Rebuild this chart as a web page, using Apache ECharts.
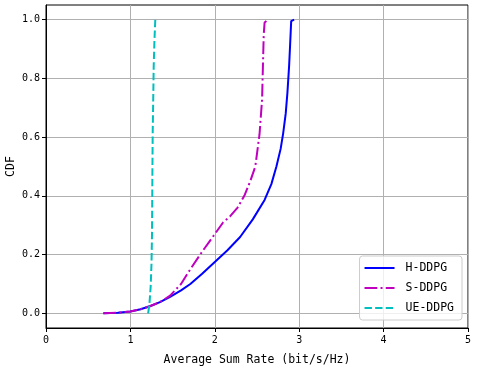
<!DOCTYPE html>
<html>
<head>
<meta charset="utf-8">
<script src="https://cdn.jsdelivr.net/npm/echarts@6/dist/echarts.min.js"></script>
<style>
  html, body { margin: 0; padding: 0; background: #fff; }
  #main { width: 480px; height: 370px; }
</style>
</head>
<body>
<div id="main"></div>
<script>
// data
var seriesNames = ['H-DDPG', 'S-DDPG', 'UE-DDPG'];

var hRate = [0.68, 0.85, 1.0, 1.12, 1.23, 1.35, 1.47, 1.6, 1.71, 1.85, 2.0, 2.15, 2.3, 2.45, 2.59, 2.67, 2.73, 2.78, 2.81, 2.84, 2.86, 2.88, 2.89, 2.905, 2.94];
var hCdf  = [0, 0.002, 0.006, 0.014, 0.024, 0.038, 0.056, 0.078, 0.10, 0.135, 0.175, 0.215, 0.26, 0.32, 0.386, 0.44, 0.50, 0.56, 0.613, 0.68, 0.75, 0.84, 0.90, 0.995, 1.0];

var sRate = [0.68, 0.85, 1.0, 1.12, 1.23, 1.35, 1.47, 1.6, 1.71, 1.85, 2.0, 2.1, 2.18, 2.27, 2.35, 2.42, 2.48, 2.53, 2.56, 2.57, 2.58, 2.59, 2.63];
var sCdf  = [0, 0.002, 0.006, 0.014, 0.024, 0.038, 0.06, 0.10, 0.15, 0.21, 0.27, 0.31, 0.33, 0.36, 0.40, 0.45, 0.50, 0.61, 0.727, 0.84, 0.95, 0.99, 1.0];

var ueRate = [1.21, 1.225, 1.24, 1.25, 1.256, 1.26, 1.264, 1.27, 1.276, 1.285, 1.295];
var ueCdf  = [0, 0.03, 0.09, 0.17, 0.27, 0.45, 0.61, 0.72, 0.84, 0.93, 1.0];

var yTicks = [0, 0.2, 0.4, 0.6, 0.8, 1.0];

function pairs(xs, ys) {
    return xs.map(function (x, i) { return [x, ys[i]]; });
}

var monoFont = 'DejaVu Sans Mono';
var chart = echarts.init(document.getElementById('main'), null, {renderer: 'canvas'});
var option = {
    animation: false,
    backgroundColor: '#fff',
    grid: {
        left: 46, right: 12, top: 5, bottom: 42,
        containLabel: false,
        outerBoundsMode: 'none',
        show: true, borderColor: '#000', borderWidth: 1
    },
    legend: {
        data: seriesNames,
        orient: 'vertical',
        right: 18,
        bottom: 50,
        itemWidth: 30,
        itemHeight: 12,
        itemGap: 8,
        padding: [6, 8, 6, 4],
        borderColor: '#cccccc',
        borderWidth: 1,
        borderRadius: 3,
        backgroundColor: 'rgba(255,255,255,0.8)',
        itemStyle: {opacity: 0},
        textStyle: {fontFamily: monoFont, fontSize: 11.5, color: '#000', padding: [0, 0, 0, 6]}
    },
    xAxis: {
        type: 'value',
        min: 0, max: 5, interval: 1,
        name: 'Average Sum Rate (bit/s/Hz)',
        nameLocation: 'middle',
        nameGap: 26,
        nameMoveOverlap: false,
        nameTextStyle: {fontFamily: monoFont, fontSize: 11.5, color: '#000'},
        axisLine: {show: true, onZero: false, lineStyle: {color: '#000', width: 1}},
        axisTick: {show: true, inside: false, length: 4, lineStyle: {color: '#000', width: 1}},
        axisLabel: {fontFamily: monoFont, fontSize: 10, color: '#000', margin: 7},
        splitLine: {show: true, lineStyle: {color: '#b0b0b0', width: 1}}
    },
    yAxis: {
        type: 'value',
        min: -0.05, max: 1.05,
        name: 'CDF',
        nameLocation: 'middle',
        nameGap: 29,
        nameRotate: 90,
        nameMoveOverlap: false,
        nameTextStyle: {fontFamily: monoFont, fontSize: 11.5, color: '#000'},
        axisLine: {show: true, onZero: false, lineStyle: {color: '#000', width: 1}},
        axisTick: {show: true, inside: false, length: 4, lineStyle: {color: '#000', width: 1}, customValues: yTicks},
        axisLabel: {
            fontFamily: monoFont, fontSize: 10, color: '#000', margin: 6,
            customValues: yTicks,
            formatter: function (v) { return v.toFixed(1); }
        },
        splitLine: {show: true, lineStyle: {color: '#b0b0b0', width: 1}}
    },
    series: [
        {
            name: seriesNames[0], type: 'line', symbol: 'none', smooth: false,
            data: pairs(hRate, hCdf),
            lineStyle: {color: '#0000ff', width: 2}, itemStyle: {color: '#0000ff'}, z: 3
        },
        {
            name: seriesNames[1], type: 'line', symbol: 'none',
            data: pairs(sRate, sCdf),
            lineStyle: {color: '#bf00bf', width: 2, type: [12.8, 3.2, 2, 3.2]}, itemStyle: {color: '#bf00bf'}, z: 4
        },
        {
            name: seriesNames[2], type: 'line', symbol: 'none',
            data: pairs(ueRate, ueCdf),
            lineStyle: {color: '#00bfbf', width: 2, type: [7.4, 3.2]}, itemStyle: {color: '#00bfbf'}, z: 5
        }
    ]
};
chart.setOption(option);
</script>
</body>
</html>
